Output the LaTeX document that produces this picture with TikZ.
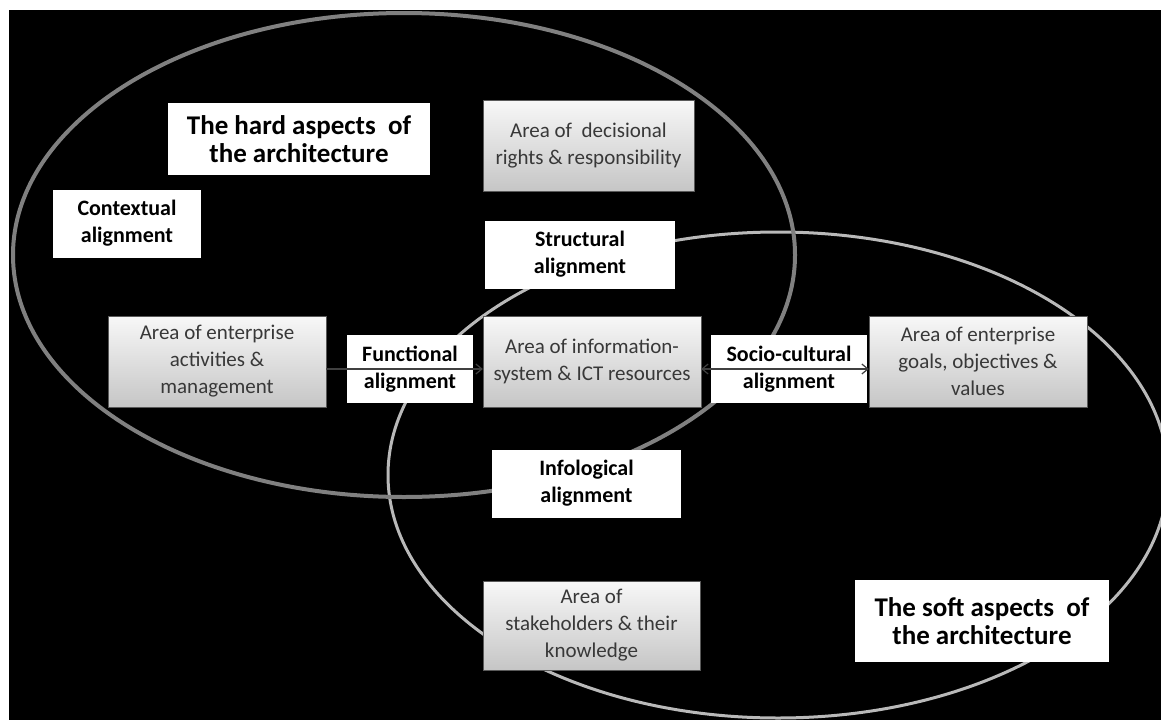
\documentclass[tikz,border=0pt]{standalone}
\usepackage{fontspec}
\setmainfont{Carlito}
\usetikzlibrary{arrows.meta}

\begin{document}
\begin{tikzpicture}[
  x=1pt, y=-1pt,
  >={Straight Barb[length=6pt, width=10pt]},
  area/.style={draw=gray!70!black, top color=gray!6, bottom color=gray!45, text=black!78,
    align=center, font=\fontsize{21}{27}\selectfont, minimum width=218pt, minimum height=91pt, inner sep=2pt},
  algn/.style={fill=white, align=center, font=\fontsize{22}{27}\selectfont\bfseries, minimum height=68pt, inner sep=2pt},
  aspect/.style={fill=white, align=center, font=\fontsize{27}{28}\selectfont\bfseries, inner sep=2pt},
  hardring/.style={draw=gray!100, line width=4pt},
  softring/.style={draw=gray!55, line width=3pt},
  link/.style={->, line width=1.2pt, draw=black!75},
]
  \useasboundingbox (0,0) rectangle (1161,720);
  \fill[white] (0,0) rectangle (1161,720);
  \fill[black] (9,10) rectangle (1161,720);

  % the two overlapping fields
  \draw[softring] (778,475) ellipse (390 and 243);
  \draw[hardring] (404,255) ellipse (391 and 242);

  \node[aspect, minimum width=262pt, minimum height=72pt] (hard) at (299,139) {The hard aspects~ of\\the architecture};
  \node[aspect, minimum width=254pt, minimum height=82pt] (soft) at (982,621) {The soft aspects~ of\\the architecture};

  \node[area, minimum width=211pt] (decis) at (588.5,145.5) {Area of~ decisional\\rights \& responsibility};
  \node[area] (activ) at (217,361.5) {Area of enterprise\\activities \&\\management};
  \node[area] (info) at (592,361.5) {Area of information-\\system \& ICT resources};
  \node[area] (goals) at (978,361.5) {Area of enterprise\\goals, objectives \&\\values};
  \node[area, minimum width=217pt, minimum height=89pt] (stake) at (591.5,625.5) {Area of\\stakeholders \& their\\knowledge};

  \foreach \name/\x/\y/\w/\txt in {%
      ctx/127/223.5/148pt/{Contextual\\alignment}, struct/580/254.5/190pt/{Structural\\alignment},
      func/410/369/126pt/{Functional\\alignment}, socio/789/369/156pt/{Socio-cultural\\alignment},
      infol/586.5/483.5/189pt/{Infological\\alignment}}
    \node[algn, minimum width=\w] (\name) at (\x,\y) {\txt};

  \draw[link] (activ.east |- func) -- (info.west |- func);
  \draw[link, <->] (info.east |- socio) -- (goals.west |- socio);
\end{tikzpicture}
\end{document}
